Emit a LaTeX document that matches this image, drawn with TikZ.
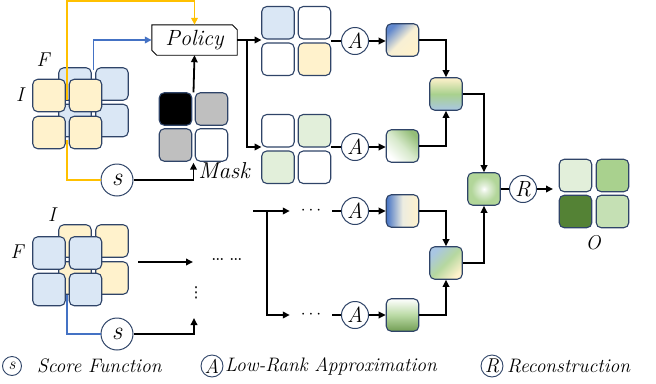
\documentclass[tikz,border=0pt]{standalone}
\usepackage{fontspec}
\newfontfamily\symfont{DejaVu Sans}
\usetikzlibrary{arrows.meta}
\definecolor{nav}{HTML}{2F4468}
\definecolor{lblue}{HTML}{DAE7F5}
\definecolor{lyel}{HTML}{FFF2CC}
\definecolor{lgreen}{HTML}{E2EFDA}
\definecolor{mgreen}{HTML}{A9D18E}
\definecolor{dgreen}{HTML}{548235}
\definecolor{pgreen}{HTML}{C5E0B4}
\definecolor{mgray}{HTML}{BFBFBF}
\definecolor{ored}{HTML}{FFC000}
\definecolor{sblue}{HTML}{4472C4}
\definecolor{gblue}{HTML}{A9C6E3}
\pgfdeclareradialshading{glow}{\pgfpoint{0bp}{0bp}}{color(0bp)=(white); color(6bp)=(lgreen); color(20bp)=(mgreen!90); color(50bp)=(mgreen!90)}
\tikzset{
  cell/.style={draw=nav, line width=1.1pt, rounded corners=5pt, minimum size=32.5pt, inner sep=0pt},
  gridbox/.style={minimum width=69pt, minimum height=69pt, inner sep=0pt},
  op/.style={circle, draw=nav, line width=1pt, minimum size=27pt, inner sep=0pt, font=\fontsize{22}{22}\selectfont\itshape},
  sop/.style={circle, draw=nav, line width=1pt, minimum size=32pt, inner sep=0pt, font=\fontsize{26}{26}\selectfont\itshape},
  lop/.style={circle, draw=nav, line width=0.9pt, minimum size=22pt, inner sep=0pt, font=\fontsize{20}{20}\selectfont\itshape},
  conn/.style={line width=1.8pt, -{Triangle[length=7pt,width=6.5pt]}},
  wire/.style={line width=1.8pt},
  lab/.style={font=\fontsize{20}{22}\selectfont\itshape, inner sep=0pt},
  legtext/.style={font=\fontsize{19.5}{22}\selectfont\itshape, anchor=west, inner sep=0pt},
}
\begin{document}
\begin{tikzpicture}[x=1pt,y=-1pt]
\useasboundingbox (0,0) rectangle (656,383);

% ---------- top-left: F (back, blue) and I (front, yellow)
\node[cell, fill=lblue] (fa) at (75,84) {};
\node[cell, fill=lblue] (fb) at (112,84) {};
\node[cell, fill=lblue] (fc) at (75,120.5) {};
\node[cell, fill=lblue] (fd) at (112,120.5) {};
\coordinate (yt) at (67,100);
\coordinate (yb) at (67,140);
\coordinate (bt) at (93.5,70);
\node[sop] (s1) at (117,180) {s};
\node[minimum width=85pt, minimum height=30pt, inner sep=0pt] (pol) at (194.5,40) {};
\draw[line width=0.9pt, fill=white] (pol.north west) -- ([xshift=-5pt]pol.north east) -- ([yshift=-5pt]pol.north east)
   -- (pol.south east) -- ([xshift=5pt]pol.south west) -- ([yshift=5pt]pol.south west) -- cycle;
\node[font=\fontsize{22}{22}\selectfont\itshape] (poltext) at (pol.center) {Policy};
\draw[conn, ored] (yt) |- ([yshift=24pt]pol.north) -- (pol.north);
\draw[conn, sblue] (bt) |- (pol.west);
\draw[wire, ored] (yb) |- (s1.west);
\node[cell, fill=lyel] (ia) at (49,95.5) {};
\node[cell, fill=lyel] (ib) at (85.5,95.5) {};
\node[cell, fill=lyel] (ic) at (49,132.5) {};
\node[cell, fill=lyel] (id) at (85.5,132.5) {};
\node[lab] (lF) at (43,60) {F};
\node[lab] (lI) at (20,95) {I};

% ---------- mask
\node[cell, fill=black] (ma) at (175.5,109) {};
\node[cell, fill=mgray] (mb) at (211.5,109) {};
\node[cell, fill=mgray] (mc) at (175.5,145) {};
\node[cell, fill=white] (md) at (211.5,145) {};
\node[gridbox] (mask) at (193.5,127) {};
\node[font=\fontsize{23}{23}\selectfont\itshape, inner sep=0pt] (lmask) at (224,171) {Mask};
\draw[conn] (mask.north) -- (pol.south);
\draw[conn] (s1.east) -| ([yshift=-1pt]mask.south);

% ---------- grids after policy
\node[cell, fill=lblue] (ga) at (278,22.75) {};
\node[cell, fill=white] (gb) at (314.5,22.75) {};
\node[cell, fill=white] (gc) at (278,59.25) {};
\node[cell, fill=lyel] (gd) at (314.5,59.25) {};
\node[gridbox] (grid1) at (296.25,41) {};
\node[cell, fill=white] (ha) at (278,130.75) {};
\node[cell, fill=lgreen] (hb) at (314.5,130.75) {};
\node[cell, fill=lgreen] (hc) at (278,167.25) {};
\node[cell, fill=white] (hd) at (314.5,167.25) {};
\node[gridbox] (grid2) at (296.25,149) {};
\draw[conn] (pol.east) -- (pol.east -| grid1.west);
\draw[conn] ([xshift=10pt]pol.east) |- ([yshift=2pt]grid2.west);

\node[op] (a1) at (355,41) {A};
\node[op] (a2) at (355,147) {A};
\draw[wire] (grid1.east) -- (a1.west);
\draw[wire] ([yshift=2pt]grid2.east) -- (a2.west);

\node[cell, top color=sblue!85, bottom color=lyel, middle color=lyel!80!lblue, shading angle=45] (q1) at (402.5,40) {};
\node[cell, top color=mgreen!75!dgreen, bottom color=white, middle color=lgreen!80!mgreen, shading angle=-45] (q2) at (402.5,146) {};
\draw[conn] (a1.east) -- (a1.east -| q1.west);
\draw[conn] (a2.east) -- (a2.east -| q2.west);

\node[cell, top color=lyel, bottom color=gblue, middle color=mgreen] (mg1) at (446,94) {};
\draw[conn] (q1.east) -| (mg1.north);
\draw[conn] (q2.east) -| (mg1.south);

% ---------- final merge, reconstruction, output
\node[cell, shading=glow] (fin) at (484,189) {};
\node[op] (r) at (523,189) {R};
\draw[conn] (mg1.east) -| (fin.north);
\draw[wire] (fin.east) -- (r.west);
\coordinate (rout) at (553,189);
\draw[conn] (r.east) -- (rout);
\node[cell, fill=lgreen] (oa) at (575.5,175.5) {};
\node[cell, fill=mgreen] (ob) at (612.5,175.5) {};
\node[cell, fill=dgreen] (oc) at (575.5,211.5) {};
\node[cell, fill=pgreen] (od) at (612.5,211.5) {};
\node[lab] (lO) at (593,243) {O};

% ---------- bottom-left: I (back, yellow) and F (front, blue)
\node[cell, fill=lyel] (ja) at (75,241) {};
\node[cell, fill=lyel] (jb) at (112,241) {};
\node[cell, fill=lyel] (jc) at (75,278) {};
\node[cell, fill=lyel] (jd) at (112,278) {};
\coordinate (bb) at (67,295);
\node[sop] (s2) at (117,334) {s};
\draw[wire, sblue] (bb) |- (s2.west);
\node[cell, fill=lblue] (ka) at (49,253) {};
\node[cell, fill=lblue] (kb) at (85.5,253) {};
\node[cell, fill=lblue] (kc) at (49,289.5) {};
\node[cell, fill=lblue] (kd) at (85.5,289.5) {};
\node[lab] (lI2) at (52,215) {I};
\node[lab] (lF2) at (17,252) {F};

\coordinate (bs) at (138,262);
\coordinate (be) at (193,262);
\draw[conn] (bs) -- (be);
\node[font=\fontsize{24}{24}\selectfont, inner sep=0pt] (ld) at (227,260) {\ldots\,\ldots};
\node[font=\symfont\fontsize{15}{15}\selectfont, inner sep=0pt] (vd) at (196,293) {⋮};
\coordinate (ve) at (194,318);
\draw[conn] (s2.east) -| (ve);

% ---------- bottom-right branch
\coordinate (rin) at (253,211);
\coordinate (rbr) at (267,211);
\node[minimum width=42pt, inner sep=0pt, font=\fontsize{16}{16}\selectfont] (d3) at (311,211) {$\cdots$};
\node[minimum width=42pt, inner sep=0pt, font=\fontsize{16}{16}\selectfont] (d4) at (311,315) {$\cdots$};
\draw[conn] (rin) -- (d3.west);
\draw[conn] (rbr) |- (d4.west);
\node[op] (a3) at (355,211) {A};
\node[op] (a4) at (355,315) {A};
\draw[wire] (d3.east) -- (a3.west);
\draw[wire] (d4.east) -- (a4.west);
\node[cell, left color=sblue, right color=lyel, middle color=lblue!50!lyel] (q3) at (402.5,211) {};
\node[cell, top color=white, bottom color=mgreen!35!dgreen, middle color=mgreen!70!lgreen] (q4) at (402.5,315) {};
\draw[conn] (a3.east) -- (q3.west);
\draw[conn] (a4.east) -- (q4.west);
\node[cell, top color=gblue, bottom color=lyel, middle color=mgreen!85, shading angle=45] (mg2) at (446,263) {};
\draw[conn] (q3.east) -| (mg2.north);
\draw[conn] (q4.east) -| (mg2.south);
\draw[conn] (mg2.east) -| (fin.south);

% ---------- legend
\node[lop, minimum size=19pt, font=\fontsize{17}{17}\selectfont\itshape] (ls) at (12,366) {s};
\node[legtext] (lst) at (37,366) {Score Function};
\node[lop] (la) at (212,366) {A};
\node[legtext] (lat) at (225,366) {Low-Rank Approximation};
\node[lop] (lr) at (492,366) {R};
\node[legtext] (lrt) at (507,366) {Reconstruction};
\end{tikzpicture}
\end{document}
